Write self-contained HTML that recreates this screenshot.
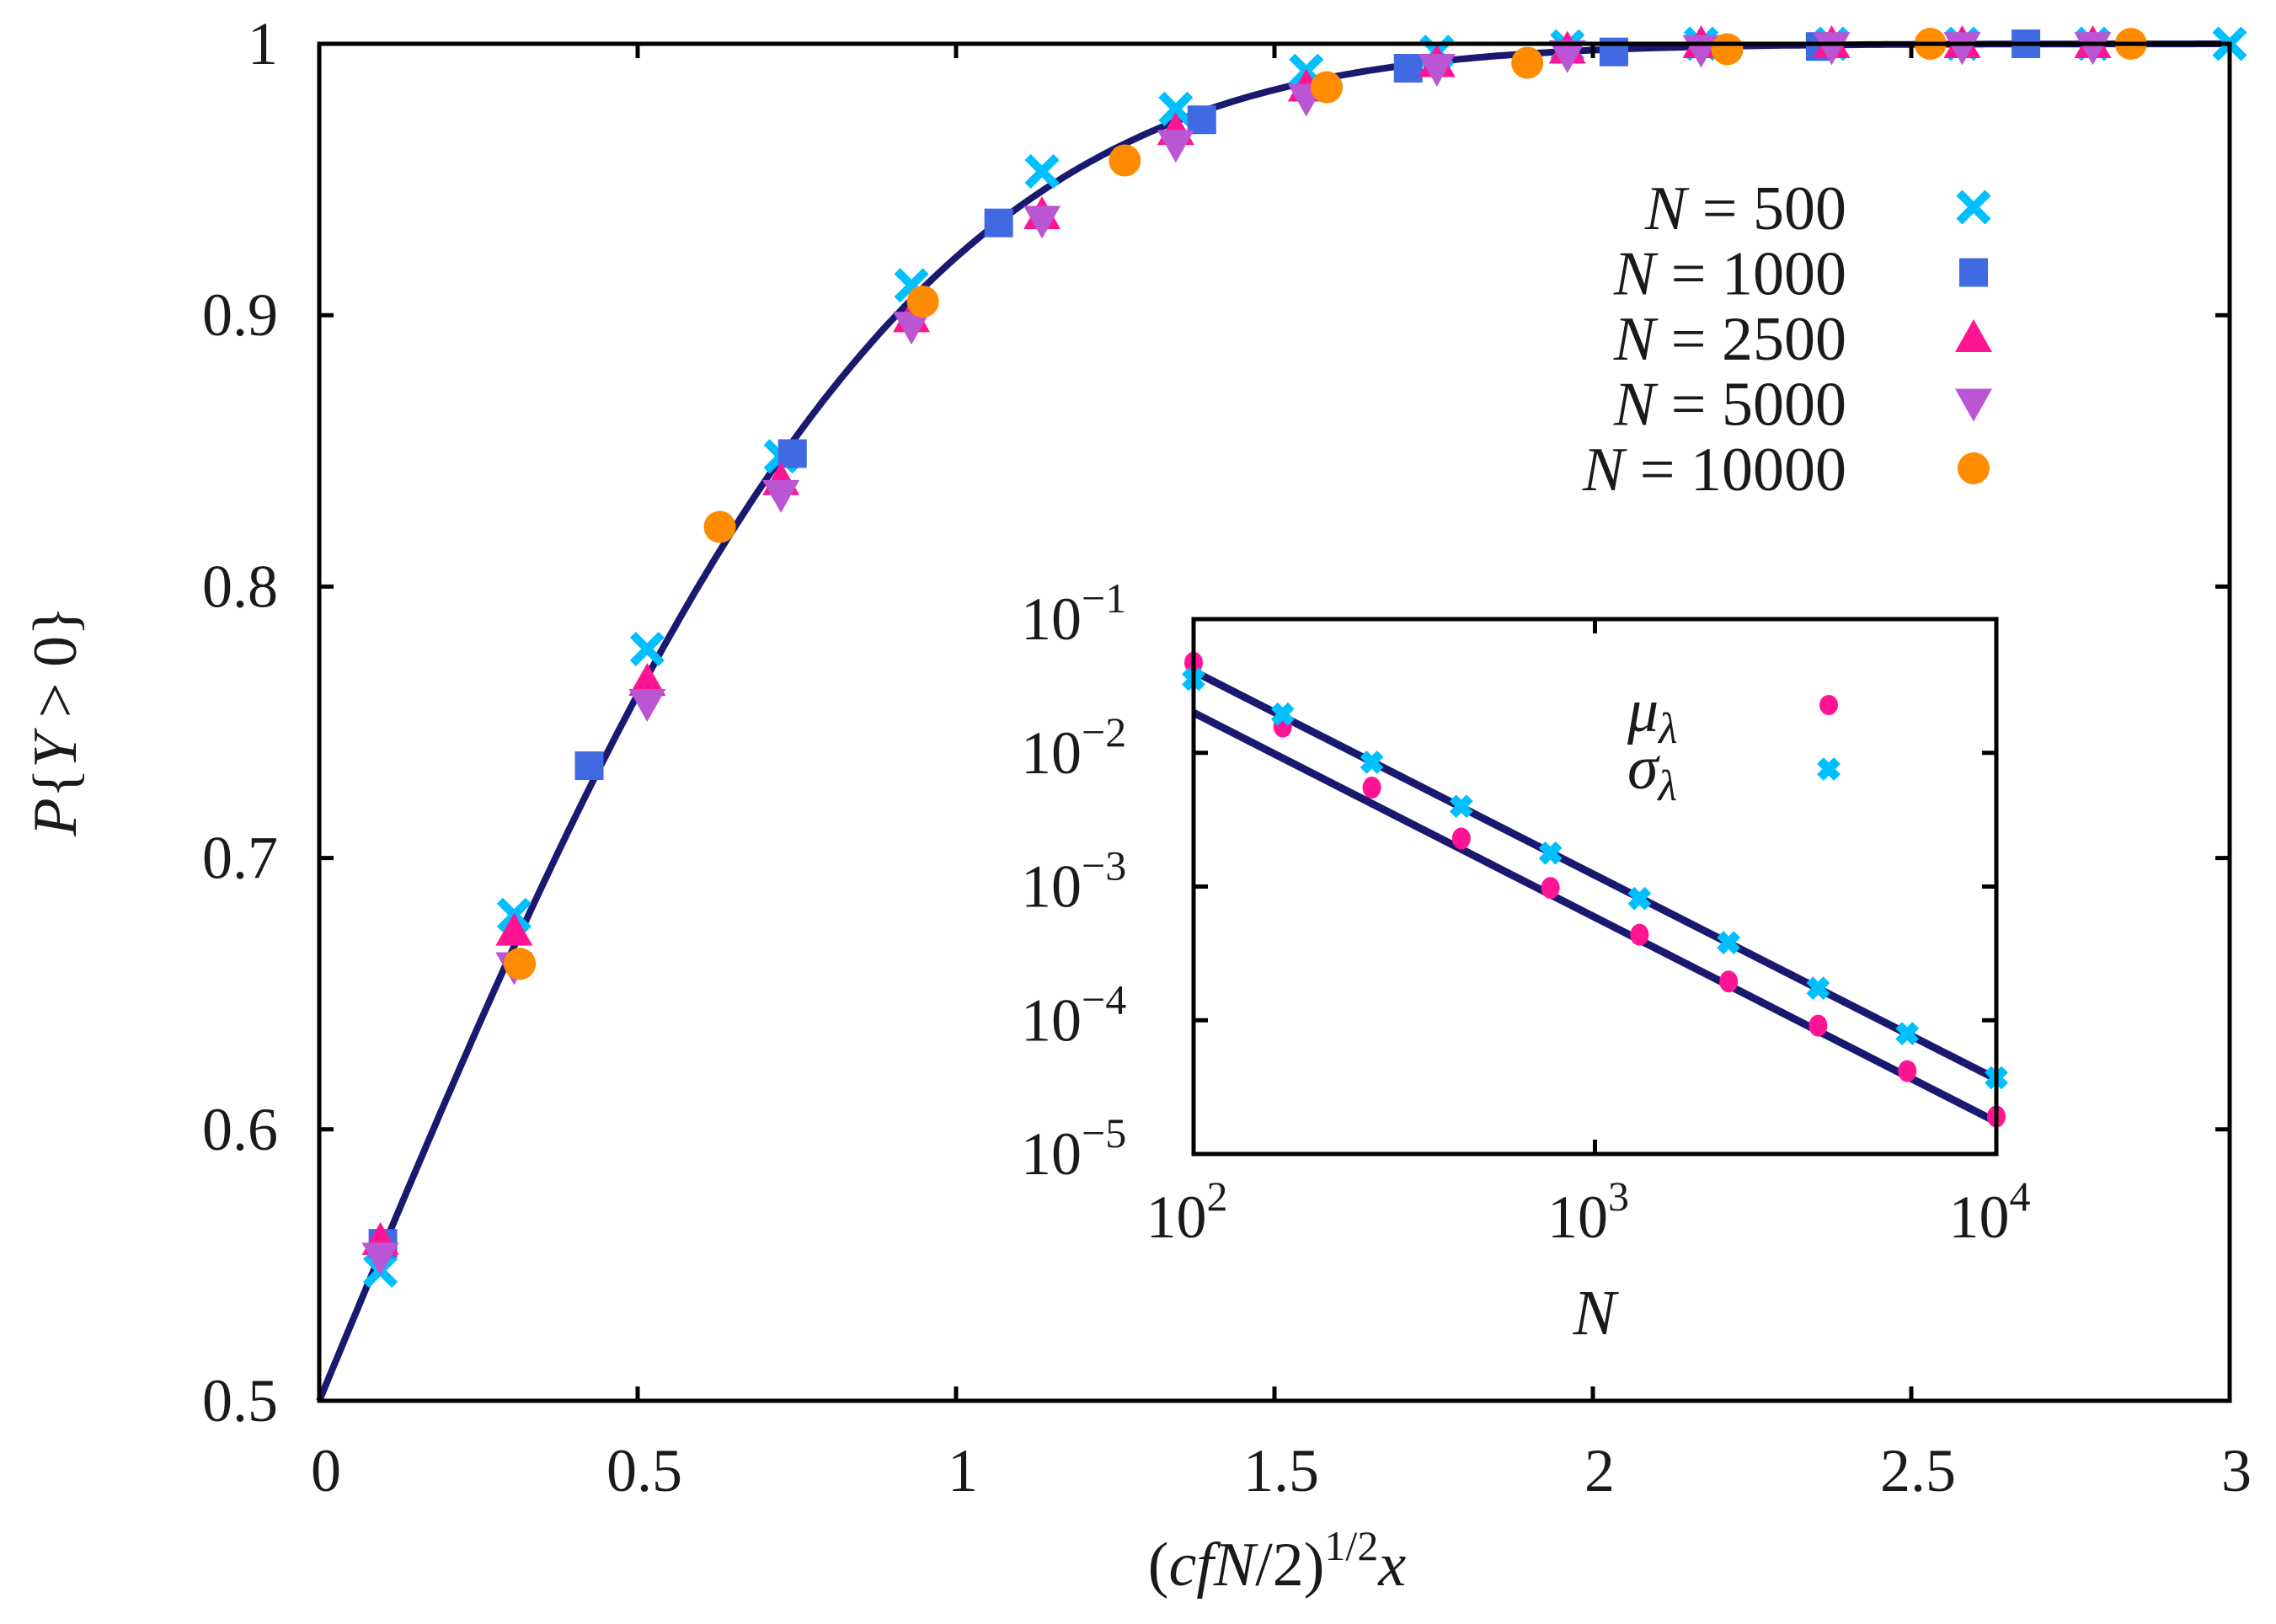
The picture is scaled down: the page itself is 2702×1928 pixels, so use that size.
<!DOCTYPE html>
<html><head><meta charset="utf-8">
<style>
html,body{margin:0;padding:0;background:#fff;}
svg{display:block;font-family:"Liberation Serif",serif;}
text{fill:#1a1a1a;}
</style></head>
<body>
<svg id="chart" width="2702" height="1928" viewBox="0 0 2702 1928" xmlns="http://www.w3.org/2000/svg"></svg>
<script>
// ---- main chart data ----
const xTicks = [0, 0.5, 1, 1.5, 2, 2.5, 3];
const xTickLabels = ["0", "0.5", "1", "1.5", "2", "2.5", "3"];
const yTicks = [0.5, 0.6, 0.7, 0.8, 0.9, 1];
const yTickLabels = ["0.5", "0.6", "0.7", "0.8", "0.9", "1"];
const seriesNames = ["N = 500", "N = 1000", "N = 2500", "N = 5000", "N = 10000"];
const x500 = [0.096,0.306,0.515,0.725,0.93,1.135,1.345,1.55,1.755,1.96,2.17,2.375,2.58,2.785,3.0];
const y500 = [0.548,0.679,0.777,0.848,0.911,0.953,0.976,0.990,0.997,0.999,1,1,1,1,1];
const x1000 = [0.1,0.424,0.743,1.067,1.386,1.71,2.033,2.357,2.68];
const y1000 = [0.558,0.734,0.849,0.934,0.972,0.991,0.997,0.999,1.0];
const x2500 = [0.096,0.306,0.515,0.725,0.93,1.135,1.345,1.55,1.755,1.96,2.17,2.375,2.58,2.785];
const y2500 = [0.559,0.673,0.765,0.839,0.899,0.937,0.968,0.984,0.993,0.998,1,1,1,1];
const x5000 = [0.096,0.306,0.515,0.725,0.93,1.135,1.345,1.55,1.755,1.96,2.17,2.375,2.58,2.785];
const y5000 = [0.553,0.660,0.757,0.834,0.896,0.935,0.963,0.980,0.991,0.996,0.998,0.999,0.999,0.999];
const x10000 = [0.315,0.629,0.948,1.265,1.582,1.897,2.211,2.530,2.845];
const y10000 = [0.661,0.822,0.905,0.957,0.984,0.993,0.998,1.0,1.0];
// ---- inset data (log10 values) ----
const insetLogN = [2,2.222,2.444,2.667,2.889,3.111,3.333,3.556,3.778,4.0];
const muLog = [-1.326,-1.804,-2.26,-2.64,-3.01,-3.36,-3.71,-4.04,-4.38,-4.72];
const sigmaLog = [-1.45,-1.71,-2.07,-2.40,-2.75,-3.09,-3.42,-3.76,-4.10,-4.43];
const fitMuLog = [-1.70,-4.76];     // fit line values at log N = 2 and 4
const fitSigmaLog = [-1.39,-4.44];
const insetXTicks = [2,3,4];
const insetYTicks = [-1,-2,-3,-4,-5];

const NS="http://www.w3.org/2000/svg";
const svg=document.getElementById('chart');
function el(tag,attrs,parent){const e=document.createElementNS(NS,tag);for(const k in attrs)e.setAttribute(k,attrs[k]);(parent||svg).appendChild(e);return e;}

const L=379,R=2647,T=52,B=1663;
const sx=v=>L+(v-0)/(3-0)*(R-L);
const sy=v=>B-(v-0.5)/(1-0.5)*(B-T);

const plotG=el('g',{});



function erf(x){const t=1/(1+0.3275911*x);const y=1-(((((1.061405429*t-1.453152027)*t)+1.421413741)*t-0.284496736)*t+0.254829592)*t*Math.exp(-x*x);return y;}
let d='';for(let i=0;i<=300;i++){const xv=3*i/300;d+=(i?'L':'M')+sx(xv).toFixed(1)+','+sy(0.5*(1+erf(xv))).toFixed(1);}
const curve=el('path',{d:d,fill:'none',stroke:'#191970','stroke-width':8},plotG);



function marker(type,cx,cy,g){
  let m;
  if(type==='x'){m=el('path',{d:`M${cx-17},${cy-17}L${cx+17},${cy+17}M${cx-17},${cy+17}L${cx+17},${cy-17}`,stroke:'#00bfff','stroke-width':10,fill:'none'},g);}
  else if(type==='sq'){m=el('rect',{x:cx-17,y:cy-17,width:34,height:34,fill:'#4169e1'},g);}
  else if(type==='up'){m=el('path',{d:`M${cx},${cy-22}L${cx+22},${cy+17}L${cx-22},${cy+17}Z`,fill:'#ff1493'},g);}
  else if(type==='dn'){m=el('path',{d:`M${cx},${cy+22}L${cx+22},${cy-17}L${cx-22},${cy-17}Z`,fill:'#ba55d3'},g);}
  else if(type==='c'){m=el('ellipse',{cx:cx,cy:cy,rx:19,ry:19,fill:'#ff8c00'},g);}
  return m;
}
const series=[[x500,y500,'x','n500'],[x1000,y1000,'sq','n1000'],[x2500,y2500,'up','n2500'],[x5000,y5000,'dn','n5000'],[x10000,y10000,'c','n10000']];
series.forEach(([xs,ys,t,nm])=>{
  const g=el('g',{},plotG);
  
  
  xs.forEach((xv,i)=>{const m=marker(t,sx(xv),sy(ys[i]),g);
    
    });
});

const frame=el('rect',{x:L,y:T,width:R-L,height:B-T,fill:'none',stroke:'#000','stroke-width':5});


xTicks.forEach((v,i)=>{
  const x=sx(v);
  el('line',{x1:x,y1:B,x2:x,y2:B-17,stroke:'#000','stroke-width':5});
  el('line',{x1:x,y1:T,x2:x,y2:T+17,stroke:'#000','stroke-width':5});
  const t=el('text',{x:x+8,y:1770,'font-size':72,'text-anchor':'middle'});t.textContent=xTickLabels[i];
  
  
});
yTicks.forEach((v,i)=>{
  const y=sy(v);
  el('line',{x1:L,y1:y,x2:L+17,y2:y,stroke:'#000','stroke-width':5});
  el('line',{x1:R,y1:y,x2:R-17,y2:y,stroke:'#000','stroke-width':5});
  const t=el('text',{x:330,y:y+24,'font-size':72,'text-anchor':'end'});t.textContent=yTickLabels[i];
  
  
});

const xt=el('text',{x:1516,y:1882,'font-size':74,'text-anchor':'middle'});
xt.innerHTML='(<tspan font-style="italic">cfN</tspan>/2)<tspan dy="-30" font-size="50">1/2</tspan><tspan dy="30" font-style="italic">x</tspan>';


const yt=el('text',{x:0,y:0,'font-size':74,'text-anchor':'middle',transform:'translate(90,856) rotate(-90)'});
yt.innerHTML='<tspan font-style="italic">P</tspan>{<tspan font-style="italic">Y</tspan> &gt; 0}';



const leg=el('g',{});


const types=['x','sq','up','dn','c'];
seriesNames.forEach((nm,i)=>{
  const y=246+i*77.5;
  const t=el('text',{x:2192,y:y+26,'font-size':74,'text-anchor':'end'},leg);
  t.setAttribute('xml:space','preserve');
  t.innerHTML='<tspan font-style="italic">N</tspan>  =  '+nm.split('= ')[1];
  
  
  const m=marker(types[i],2343,y,leg);
  
  
});

const IL=1417,IR=2370,IT=735,IB=1370;
const ix=v=>IL+(v-2)/2*(IR-IL);
const iy=v=>IT+(-1-v)/4*(IB-IT);
const inset=el('g',{});


el('rect',{x:IL,y:IT,width:IR-IL,height:IB-IT,fill:'#fff',stroke:'none'},inset);
const fl1=el('line',{x1:ix(2),y1:iy(fitSigmaLog[0]),x2:ix(4),y2:iy(fitSigmaLog[1]),stroke:'#191970','stroke-width':9},inset);


const fl2=el('line',{x1:ix(2),y1:iy(fitMuLog[0]),x2:ix(4),y2:iy(fitMuLog[1]),stroke:'#191970','stroke-width':9},inset);


function smallX(cx,cy,g){return el('path',{d:`M${cx-10},${cy-10}L${cx+10},${cy+10}M${cx-10},${cy+10}L${cx+10},${cy-10}`,stroke:'#00bfff','stroke-width':11,fill:'none'},g);}
insetLogN.forEach((v,i)=>{
  const c=el('ellipse',{cx:ix(v),cy:iy(muLog[i]),rx:11,ry:13,fill:'#ff1493'},inset);
  
  
  const s=smallX(ix(v),iy(sigmaLog[i]),inset);
  
  
});
el('rect',{x:IL,y:IT,width:IR-IL,height:IB-IT,fill:'none',stroke:'#000','stroke-width':5},inset);
insetXTicks.forEach(v=>{
  const x=ix(v);
  el('line',{x1:x,y1:IB,x2:x,y2:IB-17,stroke:'#000','stroke-width':5},inset);
  el('line',{x1:x,y1:IT,x2:x,y2:IT+17,stroke:'#000','stroke-width':5},inset);
  const t=el('text',{x:x-8,y:1469,'font-size':72,'text-anchor':'middle'},inset);
  t.innerHTML='10<tspan dy="-32" font-size="50">'+v+'</tspan>';
  
  
});
insetYTicks.forEach(v=>{
  const y=iy(v);
  el('line',{x1:IL,y1:y,x2:IL+17,y2:y,stroke:'#000','stroke-width':5},inset);
  el('line',{x1:IR,y1:y,x2:IR-17,y2:y,stroke:'#000','stroke-width':5},inset);
  const t=el('text',{x:1212,y:y+24,'font-size':72},inset);
  t.innerHTML='10<tspan dy="-32" font-size="50">−'+(-v)+'</tspan>';
  
  
});
const ixt=el('text',{x:1893,y:1584,'font-size':76,'font-style':'italic','text-anchor':'middle'},inset);
ixt.textContent='N';


const l1=el('text',{x:1932,y:868,'font-size':74,'font-style':'italic'},inset);
l1.innerHTML='μ<tspan dy="14" font-size="52">λ</tspan>';


const l2=el('text',{x:1932,y:936,'font-size':74,'font-style':'italic'},inset);
l2.innerHTML='σ<tspan dy="14" font-size="52">λ</tspan>';


const lm=el('ellipse',{cx:2171,cy:837,rx:11,ry:12,fill:'#ff1493'},inset);


const ls=smallX(2171,913,inset);


</script>
</body></html>
